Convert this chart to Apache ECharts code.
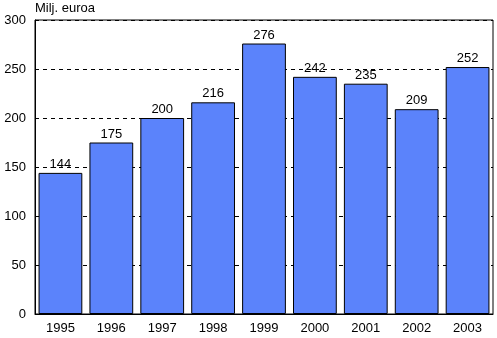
<!DOCTYPE html>
<html><head><meta charset="utf-8">
<script src="https://cdn.jsdelivr.net/npm/echarts@6/dist/echarts.min.js"></script>
<style>html,body{margin:0;padding:0;background:#fff}#c{width:497px;height:338px}</style>
</head><body><div id="c"></div>
<script>
const years = ['1995','1996','1997','1998','1999','2000','2001','2002','2003'];
const values = [144,175,200,216,276,242,235,209,252];
const yTicks = [0,50,100,150,200,250,300];
const chart = echarts.init(document.getElementById('c'));
const font = 'Liberation Sans, Arial, sans-serif';
chart.setOption({
  animation:false,
  grid:{left:35,right:4,top:20,bottom:24,containLabel:false,show:true,borderColor:'#000',borderWidth:1},
  graphic:[{type:'text',left:35,top:2,style:{text:'Milj. euroa',font:'13px '+font,fill:'#000'}}],
  xAxis:{type:'category',data:years,axisLine:{show:true,lineStyle:{color:'#000'}},axisTick:{show:false},
    axisLabel:{color:'#000',fontSize:13,fontFamily:font,margin:8}},
  yAxis:{type:'value',min:0,max:300,interval:50,axisLine:{show:true,lineStyle:{color:'#000'}},
    axisTick:{show:false},axisLabel:{color:'#000',fontSize:13,fontFamily:font,margin:9},
    splitLine:{show:true,lineStyle:{color:'#000',type:[4,4],width:1}}},
  series:[{type:'bar',data:values,barCategoryGap:'14%',
    itemStyle:{color:'#5b83fb',borderColor:'#000',borderWidth:1},
    label:{show:true,position:'top',color:'#000',fontSize:13,fontFamily:font,distance:2}}]
});
</script></body></html>
